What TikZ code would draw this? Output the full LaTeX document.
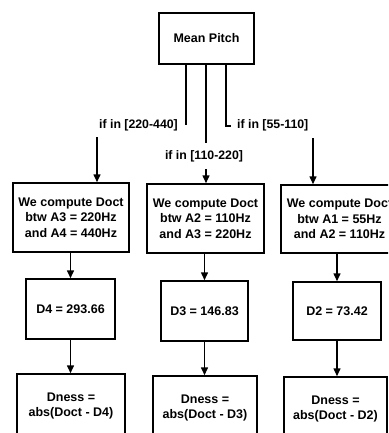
\documentclass[tikz,border=0pt]{standalone}
\usepackage{fontspec}
\setmainfont{Liberation Sans}
\usetikzlibrary{arrows.meta}
\begin{document}
\begin{tikzpicture}[x=1pt,y=-1pt,
  box/.style={draw,line width=1.5pt,align=center,inner sep=0pt,font=\bfseries\fontsize{12.5}{15.5}\selectfont},
  lbl/.style={inner sep=0pt,font=\bfseries\fontsize{12.3}{14}\selectfont},
  ln/.style={line width=1.5pt},
  arr/.style={line width=1.5pt,-{Triangle[length=8pt,width=7pt]}}]
\useasboundingbox (0,0) rectangle (388,433);
\clip (0,0) rectangle (388,433);
\fill[white] (0,0) rectangle (388,433);
% top box
\node[box,minimum width=95pt,minimum height=51pt] (mp) at (206.5,38.5) {Mean Pitch};
% labels
\node[lbl,anchor=east] (l1) at (178,125) {if in [220-440]};
\node[lbl] (l2) at (204,156) {if in [110-220]};
\node[lbl,anchor=west] (l3) at (237,125) {if in [55-110]};
% second row
\node[box,minimum width=116pt,minimum height=69pt] (b1) at (71,217.5) {We compute Doct\\btw A3 = 220Hz\\and A4 = 440Hz};
\node[box,minimum width=117pt,minimum height=69pt] (b2) at (205.5,218.5) {We compute Doct\\btw A2 = 110Hz\\and A3 = 220Hz};
\node[box,minimum width=117pt,minimum height=68pt] (b3) at (339.5,219) {We compute Doct\\btw A1 = 55Hz\\and A2 = 110Hz};
% third row
\node[box,minimum width=89pt,minimum height=60pt] (d4) at (70.5,309) {D4 = 293.66};
\node[box,minimum width=87pt,minimum height=60pt] (d3) at (204.5,311) {D3 = 146.83};
\node[box,minimum width=88pt,minimum height=58pt] (d2) at (337,311) {D2 = 73.42};
% bottom row
\node[box,minimum width=108pt,minimum height=64pt] (n4) at (71,406) {Dness =\\abs(Doct - D4)};
\node[box,minimum width=104pt,minimum height=64pt] (n3) at (205,408) {Dness =\\abs(Doct - D3)};
\node[box,minimum width=103pt,minimum height=64pt] (n2) at (335.5,409) {Dness =\\abs(Doct - D2)};
% coordinates for the branch lines
\coordinate (c1) at (186,125);
\coordinate (c2) at (206,143);
\coordinate (c3) at (226,126);
\coordinate (c3e) at (231,126);
\coordinate (a1) at (97,137);
\coordinate (a2) at (206,169);
\coordinate (a3) at (313,138);
\draw[ln] (c1 |- mp.south) -- (c1);
\draw[ln] (c2 |- mp.south) -- (c2);
\draw[ln] (c3 |- mp.south) -- (c3) -- (c3e);
\draw[arr] (a1) -- (a1 |- b1.north);
\draw[arr] (a2) -- (a2 |- b2.north);
\draw[arr] (a3) -- (a3 |- b3.north);
% box to box
\draw[arr] (d4.north |- b1.south) -- (d4.north);
\draw[arr] (d3.north |- b2.south) -- (d3.north);
\draw[arr] (d2.north |- b3.south) -- (d2.north);
\draw[arr] (d4.south) -- (d4.south |- n4.north);
\draw[arr] (d3.south) -- (d3.south |- n3.north);
\draw[arr] (d2.south) -- (d2.south |- n2.north);
\end{tikzpicture}
\end{document}
